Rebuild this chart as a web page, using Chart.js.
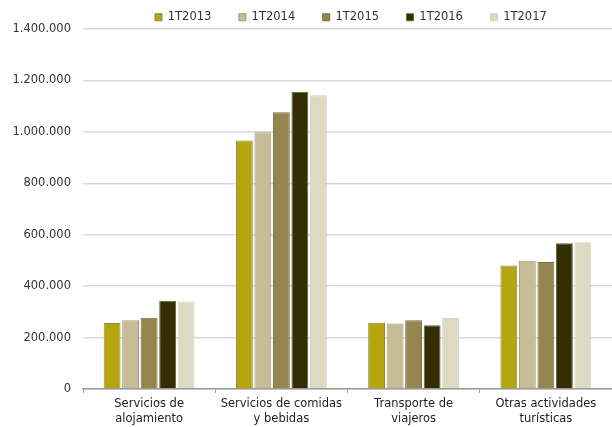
<!DOCTYPE html>
<html>
<head>
<meta charset="utf-8">
<script src="https://cdn.jsdelivr.net/npm/chart.js@4"></script>
<style>
  html, body { margin: 0; padding: 0; background: #fff; }
  #wrap { width: 612px; height: 427px; position: relative; }
</style>
</head>
<body>
<div id="wrap"><canvas id="c" width="612" height="427"></canvas></div>
<script>
const categories = [
  ["Servicios de", "alojamiento"],
  ["Servicios de comidas", "y bebidas"],
  ["Transporte de", "viajeros"],
  ["Otras actividades", "turísticas"]
];
const seriesNames = ["1T2013", "1T2014", "1T2015", "1T2016", "1T2017"];
const v2013 = [257000, 966000, 258000, 480000];
const v2014 = [267000, 998000, 255000, 499000];
const v2015 = [277000, 1076000, 267000, 494000];
const v2016 = [343000, 1156000, 248000, 567000];
const v2017 = [340000, 1142000, 276000, 571000];
const yTicks = [0, 200000, 400000, 600000, 800000, 1000000, 1200000, 1400000];

const fills = ["#b5a50e", "#c5bd96", "#958650", "#332e05", "#ddd9c3"];
const borders = ["#8f8740", "#a39b72", "#7a6e42", "#6a6530", "#d8d3bc"];
const values = [v2013, v2014, v2015, v2016, v2017];

const FONT = "'DejaVu Sans', Verdana, sans-serif";

const legendTweak = {
  id: 'legendTweak',
  beforeLayout(chart) {
    const lg = chart.legend;
    if (lg && !lg._patched) {
      const fit = lg.fit;
      lg.fit = function () { fit.call(this); this.height = 29; };
      lg._patched = true;
    }
  },
  afterLayout(chart) {
    const lg = chart.legend;
    if (!lg) return;
    const pad = lg.options.labels.padding;
    lg.top = 11.5 - pad;
    lg.bottom = 29;
    lg.height = lg.bottom - lg.top;
    lg.left = 155 - pad;
    lg.right = 612;
    lg.width = lg.right - lg.left;
  }
};

new Chart(document.getElementById('c'), {
  type: 'bar',
  data: {
    labels: categories,
    datasets: seriesNames.map((n, i) => ({
      label: n,
      data: values[i],
      backgroundColor: fills[i],
      borderColor: borders[i],
      borderWidth: 1,
      categoryPercentage: 0.7,
      barPercentage: 0.91
    }))
  },
  options: {
    responsive: false,
    animation: false,
    devicePixelRatio: 1,
    layout: { padding: { left: 0, right: 0, top: 0, bottom: 0 } },
    plugins: {
      legend: {
        position: 'top',
        align: 'start',
        labels: {
          boxWidth: 7,
          boxHeight: 7,
          padding: 27.5,
          color: '#333333',
          font: { family: FONT, size: 11.5 }
        }
      },
      tooltip: { enabled: false }
    },
    scales: {
      x: {
        offset: true,
        grid: {
          display: true,
          drawOnChartArea: false,
          drawTicks: true,
          tickLength: 4,
          offset: true,
          color: '#999999',
          lineWidth: 1
        },
        border: { display: true, color: '#999999', width: 1.5 },
        ticks: {
          color: '#222222',
          padding: 4,
          maxRotation: 0,
          autoSkip: false,
          font: { family: FONT, size: 11.5, lineHeight: 1.3 }
        },
        afterFit(scale) { scale.height = 38; }
      },
      y: {
        min: 0,
        max: 1400000,
        afterBuildTicks(scale) { scale.ticks = yTicks.map(v => ({ value: v })); },
        grid: {
          color: '#d9d9d9',
          lineWidth: 1.5,
          drawTicks: false
        },
        border: { display: false },
        ticks: {
          color: '#333333',
          padding: 12,
          font: { family: FONT, size: 11.5 },
          callback: (v) => v.toString().replace(/\B(?=(\d{3})+(?!\d))/g, '.')
        },
        afterFit(scale) { scale.width = 83; }
      }
    }
  },
  plugins: [legendTweak]
});
</script>
</body>
</html>
